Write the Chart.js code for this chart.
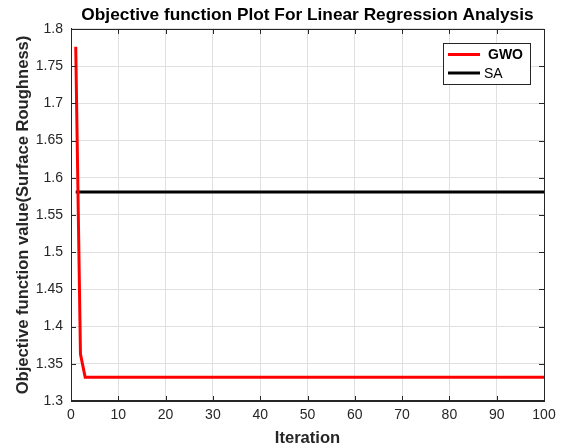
<!DOCTYPE html>
<html>
<head>
<meta charset="utf-8">
<script src="https://cdn.jsdelivr.net/npm/chart.js@4/dist/chart.umd.min.js"></script>
<style>
  html, body { margin: 0; padding: 0; background: #ffffff; }
  #wrap { width: 563px; height: 448px; }
</style>
</head>
<body>
<div id="wrap"><canvas id="c" width="563" height="448"></canvas></div>
<script>
// ---- data ----
const chartTitle = 'Objective function Plot For Linear Regression Analysis';
const xTitle = 'Iteration';
const yTitle = 'Objective function value(Surface Roughness)';

const gwoIterations = [
  1,2,3,4,5,6,7,8,9,10,11,12,13,14,15,16,17,18,19,20,
  21,22,23,24,25,26,27,28,29,30,31,32,33,34,35,36,37,38,39,40,
  41,42,43,44,45,46,47,48,49,50,51,52,53,54,55,56,57,58,59,60,
  61,62,63,64,65,66,67,68,69,70,71,72,73,74,75,76,77,78,79,80,
  81,82,83,84,85,86,87,88,89,90,91,92,93,94,95,96,97,98,99,100
];
const gwoValues = [
  1.776,1.363,1.332,1.332,1.332,1.332,1.332,1.332,1.332,1.332,
  1.332,1.332,1.332,1.332,1.332,1.332,1.332,1.332,1.332,1.332,
  1.332,1.332,1.332,1.332,1.332,1.332,1.332,1.332,1.332,1.332,
  1.332,1.332,1.332,1.332,1.332,1.332,1.332,1.332,1.332,1.332,
  1.332,1.332,1.332,1.332,1.332,1.332,1.332,1.332,1.332,1.332,
  1.332,1.332,1.332,1.332,1.332,1.332,1.332,1.332,1.332,1.332,
  1.332,1.332,1.332,1.332,1.332,1.332,1.332,1.332,1.332,1.332,
  1.332,1.332,1.332,1.332,1.332,1.332,1.332,1.332,1.332,1.332,
  1.332,1.332,1.332,1.332,1.332,1.332,1.332,1.332,1.332,1.332,
  1.332,1.332,1.332,1.332,1.332,1.332,1.332,1.332,1.332,1.332
];
const saIterations = [1, 100];
const saValues = [1.581, 1.581];

const xTicks = [0,10,20,30,40,50,60,70,80,90,100];
const xTickLabels = ['0','10','20','30','40','50','60','70','80','90','100'];
const yTicks = [1.3,1.35,1.4,1.45,1.5,1.55,1.6,1.65,1.7,1.75,1.8];
const yTickLabels = ['1.3','1.35','1.4','1.45','1.5','1.55','1.6','1.65','1.7','1.75','1.8'];

const seriesNames = ['GWO', 'SA'];
const seriesColors = ['#ff0000', '#000000'];

// ---- build chart ----
const toPts = (xs, ys) => xs.map((x, i) => ({ x: x, y: ys[i] }));
const AXIS = '#262626';
const FONT = '"Liberation Sans", Arial, sans-serif';

const boxAndTicks = {
  id: 'boxAndTicks',
  afterDraw(chart) {
    const { ctx, chartArea: a, scales } = chart;
    const L = 5;
    ctx.save();
    ctx.strokeStyle = AXIS;
    ctx.lineWidth = 1;
    ctx.beginPath();
    scales.x.ticks.forEach(t => {
      const px = Math.round(scales.x.getPixelForValue(t.value)) + 0.5;
      ctx.moveTo(px, a.bottom); ctx.lineTo(px, a.bottom - L);
      ctx.moveTo(px, a.top); ctx.lineTo(px, a.top + L);
    });
    scales.y.ticks.forEach(t => {
      const py = Math.round(scales.y.getPixelForValue(t.value)) + 0.5;
      ctx.moveTo(a.left, py); ctx.lineTo(a.left + L, py);
      ctx.moveTo(a.right, py); ctx.lineTo(a.right - L, py);
    });
    ctx.stroke();
    ctx.strokeRect(Math.round(a.left) + 0.5, Math.round(a.top) + 0.5,
                   Math.round(a.right - a.left), Math.round(a.bottom - a.top));
    // legend
    const bx = 443, by = 43, bw = 87, bh = 41;
    ctx.fillStyle = '#ffffff';
    ctx.fillRect(bx, by, bw, bh);
    ctx.strokeStyle = AXIS;
    ctx.strokeRect(bx + 0.5, by + 0.5, bw, bh);
    const ds = chart.data.datasets;
    const rows = [
      { y: 54.5, bold: true, tx: 488 },
      { y: 73, bold: false, tx: 484 }
    ];
    ds.forEach((d, i) => {
      const r = rows[i];
      ctx.strokeStyle = d.borderColor;
      ctx.lineWidth = 3;
      ctx.beginPath();
      ctx.moveTo(448, r.y); ctx.lineTo(480, r.y);
      ctx.stroke();
      ctx.fillStyle = '#000000';
      ctx.font = (r.bold ? 'bold ' : '') + '14px ' + FONT;
      ctx.textBaseline = 'middle';
      ctx.textAlign = 'left';
      ctx.fillText(d.label, r.tx, r.y + 1);
    });
    ctx.restore();
  }
};

new Chart(document.getElementById('c'), {
  type: 'scatter',
  data: {
    datasets: [
      {
        label: seriesNames[0],
        data: toPts(gwoIterations, gwoValues),
        showLine: true,
        borderColor: seriesColors[0],
        backgroundColor: seriesColors[0],
        borderWidth: 3,
        pointRadius: 0,
        tension: 0
      },
      {
        label: seriesNames[1],
        data: toPts(saIterations, saValues),
        showLine: true,
        borderColor: seriesColors[1],
        backgroundColor: seriesColors[1],
        borderWidth: 3,
        pointRadius: 0,
        tension: 0
      }
    ]
  },
  options: {
    responsive: false,
    animation: false,
    devicePixelRatio: 1,
    layout: { padding: { left: 0, right: 19, top: 0, bottom: 0 } },
    plugins: {
      legend: { display: false },
      tooltip: { enabled: false },
      title: {
        display: true,
        text: chartTitle,
        fullSize: false,
        color: '#000000',
        font: { family: FONT, size: 17.3, weight: 'bold' },
        padding: { top: 5, bottom: 3.2 }
      }
    },
    scales: {
      x: {
        type: 'linear',
        min: 0, max: 100,
        afterBuildTicks: s => { s.ticks = xTicks.map(v => ({ value: v })); },
        afterFit: s => { s.height = 47; },
        ticks: {
          color: AXIS,
          font: { family: FONT, size: 14 },
          padding: 6,
          maxRotation: 0,
          autoSkip: false,
          callback: (v) => xTickLabels[xTicks.indexOf(v)]
        },
        grid: { color: '#e0e0e0', drawTicks: false },
        border: { display: true, color: AXIS },
        title: {
          display: true,
          text: xTitle,
          color: '#262626',
          font: { family: FONT, size: 16.6, weight: 'bold' },
          padding: { top: 0, bottom: 0 }
        }
      },
      y: {
        type: 'linear',
        min: 1.3, max: 1.8,
        afterBuildTicks: s => { s.ticks = yTicks.map(v => ({ value: v })); },
        afterFit: s => { s.width = 71; },
        ticks: {
          color: AXIS,
          font: { family: FONT, size: 14 },
          padding: 8,
          autoSkip: false,
          callback: (v) => yTickLabels[yTicks.findIndex(t => Math.abs(t - v) < 1e-9)]
        },
        grid: { color: '#e0e0e0', drawTicks: false },
        border: { display: true, color: AXIS },
        title: {
          display: true,
          text: yTitle,
          color: '#262626',
          font: { family: FONT, size: 16.6, weight: 'bold' },
          padding: { top: 13, bottom: 0 }
        }
      }
    }
  },
  plugins: [boxAndTicks]
});
</script>
</body>
</html>
